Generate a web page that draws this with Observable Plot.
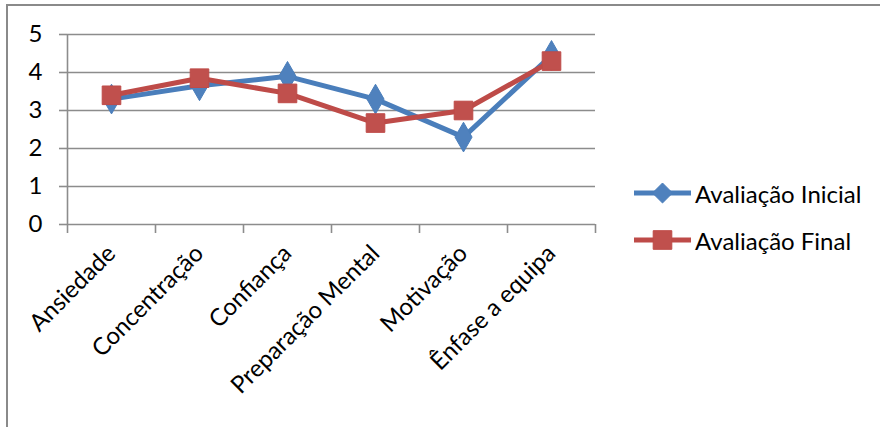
<!DOCTYPE html>
<html>
<head>
<meta charset="utf-8">
<script src="https://cdn.jsdelivr.net/npm/d3@7"></script>
<script src="https://cdn.jsdelivr.net/npm/@observablehq/plot@0.6"></script>
<style>
  html, body { margin: 0; padding: 0; background: #fff; }
  #wrap { position: relative; width: 880px; height: 427px; overflow: hidden; font-family: Lato, "Open Sans", sans-serif; }
  #frame { position: absolute; left: 6px; top: 4px; width: 1000px; height: 1000px; border-left: 2px solid #8a8a8a; border-top: 2px solid #8a8a8a; box-sizing: border-box; }
  #chart { position: absolute; left: 0; top: 0; }
  #legend { position: absolute; left: 634px; top: 176px; font-size: 24px; color: #000; }
  .item { display: flex; align-items: center; height: 34px; margin-bottom: 13px; }
  .item svg { margin-right: 4px; }
</style>
</head>
<body>
<div id="wrap">
  <div id="frame"></div>
  <div id="chart"></div>
  <div id="legend"></div>
</div>
<script>
const categories = ["Ansiedade", "Concentração", "Confiança", "Preparação Mental", "Motivação", "Ênfase a equipa"];
const inicial = [3.3, 3.65, 3.9, 3.3, 2.3, 4.45];
const final = [3.4, 3.85, 3.45, 2.67, 3.0, 4.3];
const seriesNames = ["Avaliação Inicial", "Avaliação Final"];
const yTicks = [0, 1, 2, 3, 4, 5];

const blueLine = "#4A7EBB", blueFill = "#4F81BD";
const redLine = "#BE4B48", redFill = "#C0504D";

const rowsI = categories.map((c, i) => ({i, v: inicial[i]}));
const rowsF = categories.map((c, i) => ({i, v: final[i]}));
const boundaries = d3.range(categories.length + 1).map(k => k - 0.5);
const centers = d3.range(categories.length);

const chart = Plot.plot({
  width: 880,
  height: 427,
  marginLeft: 67,
  marginRight: 285,
  marginTop: 34,
  marginBottom: 203,
  style: {fontFamily: "Lato, 'Open Sans', sans-serif", fontSize: "24px", color: "#000", background: "transparent"},
  x: {type: "linear", domain: [-0.5, categories.length - 0.5]},
  y: {domain: [0, 5]},
  marks: [
    Plot.gridY(yTicks.slice(1), {stroke: "#8c8c8c", strokeOpacity: 1, strokeWidth: 1.6}),
    Plot.axisY(yTicks, {tickSize: 8, tickPadding: 17, stroke: "#8c8c8c", strokeWidth: 1.6, fontSize: 24, label: null}),
    Plot.ruleX([-0.5], {y1: 0, y2: 5, stroke: "#8c8c8c", strokeWidth: 1.6}),
    Plot.ruleY([0], {stroke: "#8c8c8c", strokeWidth: 1.6}),
    Plot.axisX(boundaries, {tickSize: 9, tickFormat: () => "", stroke: "#8c8c8c", strokeWidth: 1.6, label: null}),
    Plot.axisX(centers, {tickSize: 0, tickPadding: 25, tickRotate: -45, tickFormat: i => categories[i], fontSize: 24, label: null}),
    Plot.line(rowsI, {x: "i", y: "v", stroke: blueLine, strokeWidth: 5, strokeLinejoin: "round"}),
    Plot.line(rowsF, {x: "i", y: "v", stroke: redLine, strokeWidth: 5, strokeLinejoin: "round"}),
    Plot.dot(rowsI, {x: "i", y: "v", symbol: "diamond", r: 9, fill: blueFill, stroke: blueLine, strokeWidth: 1}),
    Plot.dot(rowsF, {x: "i", y: "v", symbol: "square", r: 10.5, fill: redFill, stroke: redLine, strokeWidth: 1})
  ]
});
document.getElementById("chart").appendChild(chart);

// legend
const legend = document.getElementById("legend");
const specs = [
  {name: seriesNames[0], line: blueLine, fill: blueFill, shape: "diamond"},
  {name: seriesNames[1], line: redLine, fill: redFill, shape: "square"}
];
for (const s of specs) {
  const item = document.createElement("div");
  item.className = "item";
  const ns = "http://www.w3.org/2000/svg";
  const svg = document.createElementNS(ns, "svg");
  svg.setAttribute("width", 57); svg.setAttribute("height", 24);
  const ln = document.createElementNS(ns, "line");
  ln.setAttribute("x1", 0); ln.setAttribute("x2", 57); ln.setAttribute("y1", 12); ln.setAttribute("y2", 12);
  ln.setAttribute("stroke", s.line); ln.setAttribute("stroke-width", 5);
  svg.appendChild(ln);
  const p = document.createElementNS(ns, "path");
  const sym = s.shape === "diamond" ? d3.symbolDiamond2 : d3.symbolSquare;
  const size = s.shape === "diamond" ? 9 * 9 * Math.PI : 10.5 * 10.5 * Math.PI;
  p.setAttribute("d", d3.symbol(sym, size)());
  p.setAttribute("transform", "translate(28.5,12)");
  p.setAttribute("fill", s.fill); p.setAttribute("stroke", s.line);
  svg.appendChild(p);
  item.appendChild(svg);
  const t = document.createElement("span");
  t.textContent = s.name;
  item.appendChild(t);
  legend.appendChild(item);
}
</script>
</body>
</html>
